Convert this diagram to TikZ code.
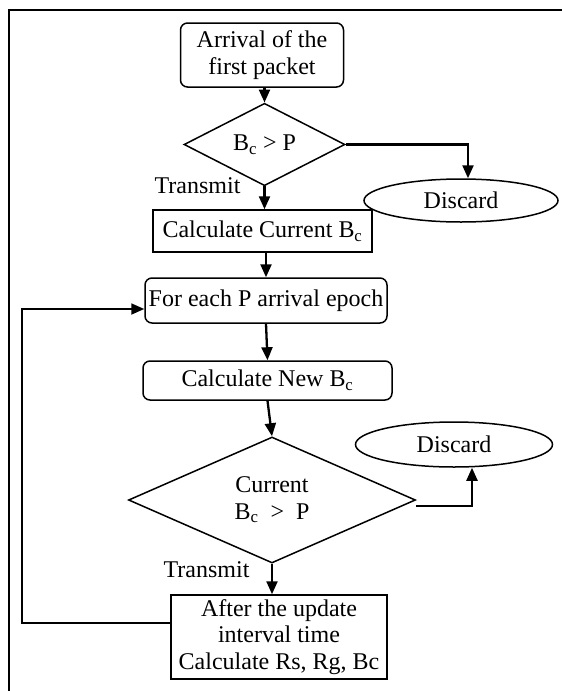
\documentclass[tikz,border=0pt]{standalone}
\usepackage{fontspec}
\setmainfont{Liberation Serif}
\usetikzlibrary{shapes.geometric,arrows.meta}
\begin{document}
\begin{tikzpicture}[x=1pt,y=-1pt,
  every node/.style={font=\fontsize{24}{26.5}\selectfont, align=center, inner sep=0pt},
  rbox/.style={draw, line width=1.5pt, rounded corners=7pt},
  sbox/.style={draw, line width=1.5pt},
  dec/.style={draw, line width=1.5pt, diamond},
  term/.style={draw, line width=1.5pt, ellipse},
  arr/.style={line width=2.3pt, -{Triangle[length=13pt,width=11pt]}},
  loopline/.style={line width=1.8pt, -{Triangle[length=13pt,width=11pt]}},
  lbl/.style={}
]
\useasboundingbox (0,0) rectangle (562,691);
\clip (0,0) rectangle (562,691);
\draw[line width=1.4pt] (9,10) rectangle (580,710);

\node[rbox, minimum width=163, minimum height=64] (arrival) at (262,55) {Arrival of the\\first packet};
\node[dec, minimum width=161, minimum height=65] (d1) at (264.5,144.5) {B\textsubscript{c} > P};
\node[term, minimum width=194, minimum height=43] (discard1) at (461,200.5) {Discard};
\node[lbl] (tr1) at (197.5,186) {Transmit};
\node[sbox, minimum width=219, minimum height=42] (calccur) at (262.5,231) {Calculate Current B\textsubscript{c}};
\node[rbox, minimum width=242, minimum height=45] (foreach) at (266,300.5) {For each P arrival epoch};
\node[rbox, minimum width=249, minimum height=39] (calcnew) at (267.5,380.5) {Calculate New B\textsubscript{c}};
\node[dec, minimum width=287, minimum height=126] (d2) at (272,500) {Current\\B\textsubscript{c}\enspace>\enspace P};
\node[term, minimum width=197, minimum height=45] (discard2) at (454,444.5) {Discard};
\node[lbl] (tr2) at (206.5,570) {Transmit};
\node[sbox, minimum width=216, minimum height=84] (after) at (279,637) {After the update\\interval time\\Calculate Rs, Rg, Bc};

\draw[arr] (d1.north |- arrival.south) -- (d1.north);
\draw[arr] (d1.east) -| ([xshift=7pt]discard1.north);
\draw[arr] (d1.south) -- (d1.south |- calccur.north);
\draw[arr] (foreach.north |- calccur.south) -- (foreach.north);
\draw[arr] (foreach.south) -- (calcnew.north);
\draw[arr] (calcnew.south) -- (d2.north);
\draw[arr] ([yshift=-6pt]d2.east) -| ([xshift=18pt]discard2.south);
\draw[arr] (d2.south) -- (d2.south |- after.north);
\draw[loopline] ([yshift=14pt]after.west) -- ++(-148.5,0) |- ([yshift=-8.5pt]foreach.west);
\end{tikzpicture}
\end{document}
